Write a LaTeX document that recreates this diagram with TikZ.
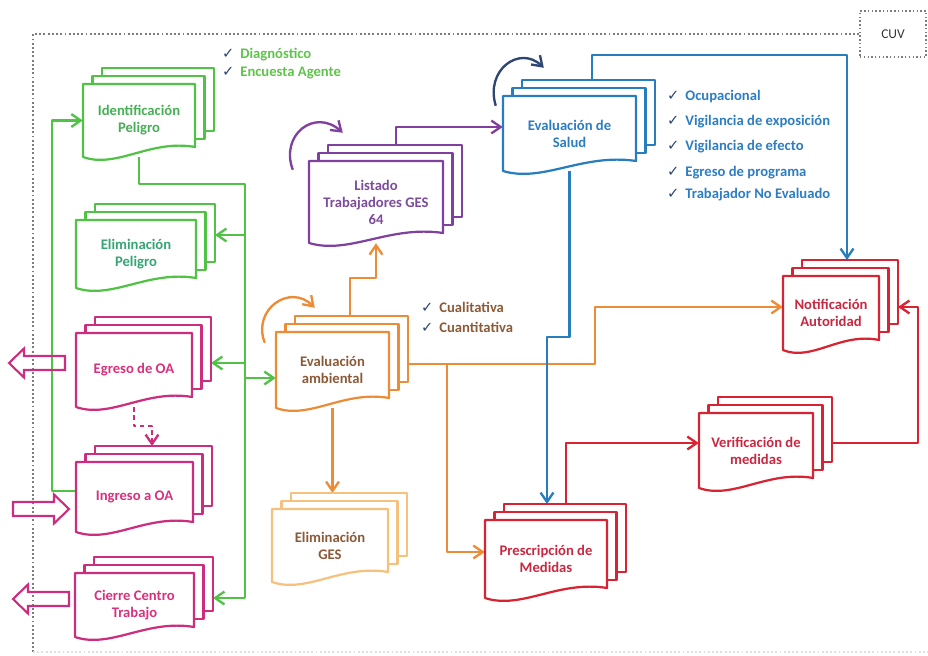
\documentclass[tikz,border=0pt]{standalone}
\usepackage{fontspec}
\setmainfont{Carlito}
\newfontfamily\symfont{DejaVu Sans}
\usepackage{xcolor}
\usepackage{tikz}
\usetikzlibrary{arrows.meta,calc,backgrounds}

\definecolor{gline}{RGB}{80,195,70}
\definecolor{gtext}{RGB}{70,175,85}
\definecolor{gtext2}{RGB}{55,165,115}
\definecolor{gnote}{RGB}{95,195,75}
\definecolor{mline}{RGB}{205,45,125}
\definecolor{mtext}{RGB}{215,50,125}
\definecolor{pline}{RGB}{128,64,160}
\definecolor{ptext}{RGB}{125,75,155}
\definecolor{oline}{RGB}{236,140,55}
\definecolor{oline2}{RGB}{246,192,125}
\definecolor{otext}{RGB}{140,90,55}
\definecolor{bline}{RGB}{40,125,190}
\definecolor{btext}{RGB}{45,125,195}
\definecolor{rline}{RGB}{215,35,50}
\definecolor{rtext}{RGB}{200,40,65}
\definecolor{navy}{RGB}{45,70,115}
\definecolor{framegray}{RGB}{125,125,125}

\newcommand{\chk}{{\symfont\color{navy}\fontsize{12.5}{14}\selectfont ✓}\hspace{0.4em}}

% stack of three sheets: name, centre x, centre y, width, height, line colour, text colour, text
\newcommand{\docstack}[8]{%
  \foreach \k in {2,1}
    \draw[sheet, draw=#6] ({#2-#4/2+9.5*\k},{#3-#5/2-8*\k}) rectangle ({#2+#4/2+9.5*\k},{#3+#5/2-10-8*\k});
  \draw[sheet, draw=#6] ({#2-#4/2},{#3-#5/2}) -- ({#2-#4/2},{#3+#5/2})
    .. controls ({#2-0.2*#4},{#3+#5/2+12}) and ({#2+0.1*#4},{#3+#5/2-18}) .. ({#2+#4/2},{#3+#5/2-10})
    -- ({#2+#4/2},{#3-#5/2}) -- cycle;
  \coordinate (#1-b) at ({#2+#4/2+19},{#3-#5/2-16});
  \node[doctext, text=#7, minimum width=#4*0.03cm, minimum height=#5*0.03cm] (#1) at (#2,#3) {#8};
}

% hollow block arrow from a tail point, #2 = 1 (right) or -1 (left)
\newcommand{\fatarrow}[2]{%
  \draw[fat] (#1) ++(0,-7) -- ++({41*(#2)},0) -- ++(0,-7.5) -- ++({15*(#2)},14.5)
    -- ++({-15*(#2)},14.5) -- ++(0,-7.5) -- ++({-41*(#2)},0) -- cycle;
}

\begin{document}
\begin{tikzpicture}[x=0.03cm, y=-0.03cm,
        >={Straight Barb[length=8pt,width=11pt]},
        sheet/.style={line width=1.9pt, fill=white, line join=round},
        doctext/.style={inner sep=0pt, align=center, font=\bfseries\fontsize{12.5}{14.5}\selectfont},
        link/.style={line width=2pt, line join=round},
        turn/.style={line width=2pt, ->},
        note/.style={anchor=west, inner sep=0pt, font=\bfseries\fontsize{12.5}{14}\selectfont},
        fat/.style={line width=1.8pt, draw=mline, line join=miter},
        cuvframe/.style={draw=framegray, line width=1.6pt, dotted}
    ]
    \useasboundingbox (0,0) rectangle (928,656);

    % frame
    \node[draw=framegray, dotted, line width=1.2pt, minimum width=66*0.03cm, minimum height=46*0.03cm,
          font=\fontsize{11.5}{13}\selectfont, text=black!80] (cuv) at (893,34) {CUV};
    \draw[cuvframe] (33,652) -- (33,34) -- (cuv.west);
    \draw[cuvframe, draw=black!12] (33,652) -- (928,652);

    % sheets
    \docstack{idp}{139}{120.5}{112}{73}{gline}{gtext}{Identificación\\Peligro}
    \docstack{elp}{136}{254}{120}{68}{gline}{gtext2}{Eliminación\\Peligro}
    \docstack{egr}{134}{370}{116}{74}{mline}{mtext}{Egreso de OA}
    \docstack{ing}{134.5}{497}{117}{70}{mline}{mtext}{Ingreso a OA}
    \docstack{cct}{134.5}{605}{119}{64}{mline}{mtext}{Cierre Centro\\Trabajo}
    \docstack{lst}{376}{202}{134}{82}{pline}{ptext}{Listado\\Trabajadores GES\\64}
    \docstack{eam}{332.5}{370}{113}{76}{oline}{otext}{Evaluación\\ambiental}
    \docstack{elg}{330}{545.5}{116}{73}{oline2}{otext}{Eliminación\\GES}
    \docstack{esa}{569.5}{133.5}{133}{75}{bline}{btext}{Evaluación de\\Salud}
    \docstack{nta}{831}{313}{96}{74}{rline}{rtext}{Notificación\\Autoridad}
    \docstack{vme}{756}{450.5}{114}{75}{rline}{rtext}{Verificación de\\medidas}
    \docstack{pme}{546}{559}{122}{78}{rline}{rtext}{Prescripción de\\Medidas}

    \begin{scope}[on background layer]
        % green
        \draw[link, draw=gline] (idp.south) |- (245,184) -- (245,598);
        \draw[link, draw=gline, ->] (245,235) -- (245,235 -| elp-b);
        \draw[link, draw=gline, ->] (245,363) -- (245,363 -| egr-b);
        \draw[link, draw=gline, ->] (245,378) -- (245,378 -| eam.west);
        \draw[link, draw=gline, ->] (245,598) -- (245,598 -| cct-b);
        \draw[link, draw=gline, ->] ($(ing.west)+(0,-6)$) -- (52,491) |- (idp.west);
        % magenta
        \draw[link, draw=mline, dash pattern=on 4pt off 3pt, ->] (egr.south) -- ++(0,19) -| (ing-b -| 152,0);
        % orange
        \draw[link, draw=oline, ->] (eam-b -| 350,0) -- (350,278) -| (lst.south);
        \draw[link, draw=oline, ->] (eam.south) -- (eam.south |- elg-b);
        \draw[link, draw=oline, ->] (eam-b |- 0,364) -| (595,307) -- (595,307 -| nta.west);
        \draw[link, draw=oline, ->] (447,364) |- (pme.west |- 0,552);
        % purple
        \draw[link, draw=pline, ->] (lst-b -| 396,0) |- (esa.west |- 0,127);
        % blue
        \draw[link, draw=bline, ->] (esa-b -| 592,0) |- (847,55) -- (847,55 |- nta-b);
        \draw[link, draw=bline, ->] (esa.south) |- (547,337) -- (547,337 |- pme-b);
        % red
        \draw[link, draw=rline, ->] (pme-b -| 566,0) |- (vme.west |- 0,443);
        \draw[link, draw=rline, ->] (vme-b |- 0,443) -| (918,307) -- (918,307 -| nta-b);
    \end{scope}

    % repeat loops
    \draw[turn, draw=pline] ($(lst.north west)+(-16,9)$) .. controls +(-13,-35) and +(-28,-25) .. ($(lst.north west)+(34,-28)$);
    \draw[turn, draw=oline] ($(eam.north west)+(-11,11)$) .. controls +(-13,-33) and +(-25,-25) .. ($(eam.north west)+(39,-24)$);
    \draw[turn, draw=navy] ($(esa.north west)+(-7,10)$) .. controls +(-11,-36) and +(-24,-23) .. ($(esa.north west)+(41,-28)$);

    % in / out of the programme
    \coordinate (egr-out) at (65,363);
    \coordinate (ing-in) at (13,509);
    \coordinate (cct-out) at (69,599);
    \fatarrow{egr-out}{-1}
    \fatarrow{ing-in}{1}
    \fatarrow{cct-out}{-1}

    % notes
    \foreach \t/\y [count=\i] in {Diagnóstico/55, Encuesta Agente/73}
        \node[note, text=gnote] (idp-n\i) at (222,\y) {\chk\t};
    \foreach \t/\y [count=\i] in {Cualitativa/307, Cuantitativa/327}
        \node[note, text=otext] (eam-n\i) at (421,\y) {\chk\t};
    \foreach \t/\y [count=\i] in {Ocupacional/97, Vigilancia de exposición/122, Vigilancia de efecto/147, Egreso de programa/173, Trabajador  No Evaluado/195}
        \node[note, text=btext] (esa-n\i) at (667,\y) {\chk\t};
\end{tikzpicture}
\end{document}
